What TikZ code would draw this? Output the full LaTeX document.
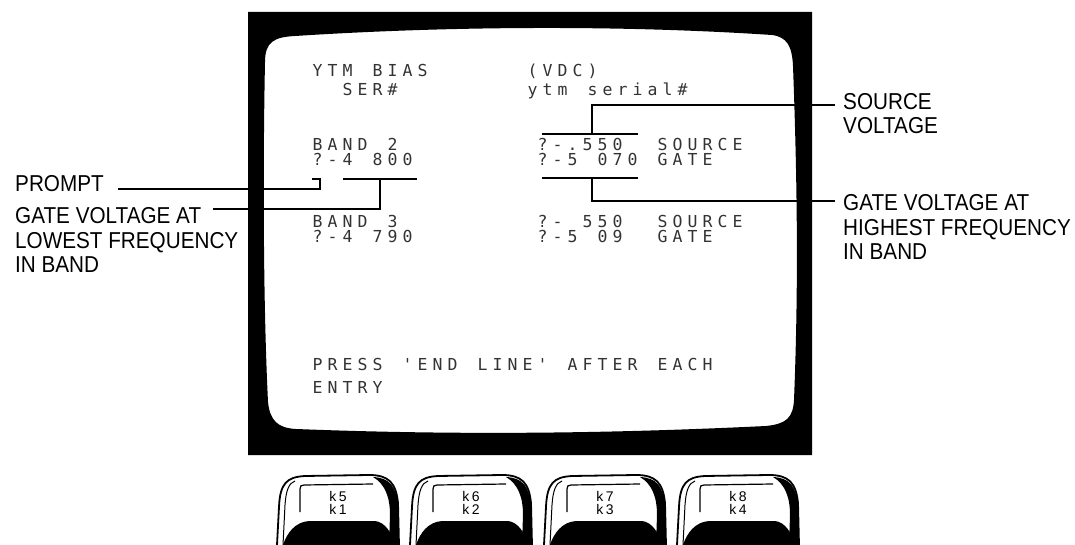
\documentclass[tikz,border=0pt]{standalone}
\usepackage{fontspec}
\newfontfamily\lblfont[FakeStretch=0.9]{Liberation Sans}
\newfontfamily\scrfont{DejaVu Sans Mono}
\newfontfamily\keyfont{Liberation Sans}
\ExplSyntaxOn
\NewDocumentCommand\scrtext{m}{\tl_map_inline:nn {#1}{\makebox[15bp][c]{##1}}}
\ExplSyntaxOff
\begin{document}
\begin{tikzpicture}[x=1bp,y=-1bp,
  scr/.style={font={\scrfont\fontsize{16.5bp}{18bp}\selectfont}, text=black!80, anchor=base west, inner sep=0},
  lbl/.style={font={\lblfont\fontsize{23bp}{24.5bp}\selectfont}, anchor=base west, inner sep=0, align=left},
  conn/.style={line width=1.7bp},
  keylbl/.style={font={\keyfont\fontsize{14bp}{13bp}\selectfont}, align=center, inner sep=0}]
\useasboundingbox (0,0) rectangle (1075,545);
\fill[white] (0,0) rectangle (1075,545);
% monitor bezel
\fill[black, even odd rule] (248,12) rectangle (812,455)
  (265,62) .. controls (265,42) and (274,37) .. (295,36)
  .. controls (450,26) and (620,25) .. (772,35)
  .. controls (787,37) and (792,46) .. (793,66)
  .. controls (798,200) and (798,300) .. (794,400)
  .. controls (793,418) and (786,424) .. (766,426)
  .. controls (600,434) and (450,435) .. (296,429)
  .. controls (278,428) and (270,421) .. (268,402)
  .. controls (263,300) and (263,160) .. (265,62) -- cycle;
% screen text
\node[scr] (t1) at (310,77) {\scrtext{YTM~BIAS}};
\node[scr] (t2) at (310,96) {\scrtext{~~SER\#}};
\node[scr] (t3) at (525,77) {\scrtext{(VDC)}};
\node[scr] (t4) at (525,96) {\scrtext{ytm~serial\#}};
\node[scr] (t5) at (310,151) {\scrtext{BAND~2}};
\node[scr] (t6) at (310,166) {\scrtext{?-4~800}};
\node[scr] (t7) at (310,228) {\scrtext{BAND~3}};
\node[scr] (t8) at (310,243) {\scrtext{?-4~790}};
\node[scr] (t9) at (535,151) {\scrtext{?-.550~~SOURCE}};
\node[scr] (t10) at (535,166) {\scrtext{?-5~070~GATE}};
\node[scr] (t11) at (535,228) {\scrtext{?-~550~~SOURCE}};
\node[scr] (t12) at (535,243) {\scrtext{?-5~09~~GATE}};
\node[scr] (t13) at (310,371) {\scrtext{PRESS~'END~LINE'~AFTER~EACH}};
\node[scr] (t14) at (310,393) {\scrtext{ENTRY}};
% labels (base anchor = last line baseline)
\node[lbl] (prompt) at (15,192) {PROMPT};
\node[lbl] (gatelow) at (15,273) {GATE VOLTAGE AT\\LOWEST FREQUENCY\\IN BAND};
\node[lbl] (srcv) at (843,134) {SOURCE\\VOLTAGE};
\node[lbl] (gatehigh) at (843,260) {GATE VOLTAGE AT\\HIGHEST FREQUENCY\\IN BAND};
% connector points
\coordinate (pA) at (118,189);
\coordinate (pB) at (320,179);
\coordinate (pC) at (312,179);
\coordinate (gA) at (213,209);
\coordinate (gB) at (380,179);
\coordinate (gU1) at (343,179);
\coordinate (gU2) at (417,179);
\coordinate (sU1) at (542,134);
\coordinate (sU2) at (638,134);
\coordinate (sM) at (592,134);
\coordinate (sE) at (835,105);
\coordinate (hU1) at (542,178);
\coordinate (hU2) at (638,178);
\coordinate (hM) at (592,178);
\coordinate (hE) at (835,201);
\draw[conn] (pA) -| (pB) -- (pC);
\draw[conn] (gA) -| (gB);
\draw[conn] (gU1) -- (gU2);
\draw[conn] (sU1) -- (sU2);
\draw[conn] (sM) |- (sE);
\draw[conn] (hU1) -- (hU2);
\draw[conn] (hM) |- (hE);
% soft keys
\foreach \x/\a/\b [count=\i] in {277/5/1, 410/6/2, 544/7/3, 677/8/4} {
  \begin{scope}[shift={(\x,475)}]
    \draw[line width=1.8bp, fill=white] (0,70) -- (2,32) .. controls (3,8) and (10,2) .. (28,1) -- (92,0) .. controls (112,0) and (119,8) .. (121,28) -- (122,70);
    \fill (96,2) .. controls (112,3) and (118,10) .. (121,28) -- (122,70) -- (112,70) -- (113,40) .. controls (113,22) and (108,9) .. (96,2) -- cycle;
    \fill (6,70) .. controls (10,58) and (18,47) .. (32,46) -- (98,46) .. controls (108,47) and (115,58) .. (118,70) -- cycle;
    \draw[line width=1bp] (6,70) -- (8,30) .. controls (9,15) and (12,8) .. (18,6);
    \draw[line width=1.2bp] (23,37) -- (23,14) .. controls (23,11) and (24,10) .. (27,10) -- (96,9);
    \node[keylbl] (key\i) at (61,27.5) {k\,\a\\k\,\b};
  \end{scope}
}
\end{tikzpicture}
\end{document}
